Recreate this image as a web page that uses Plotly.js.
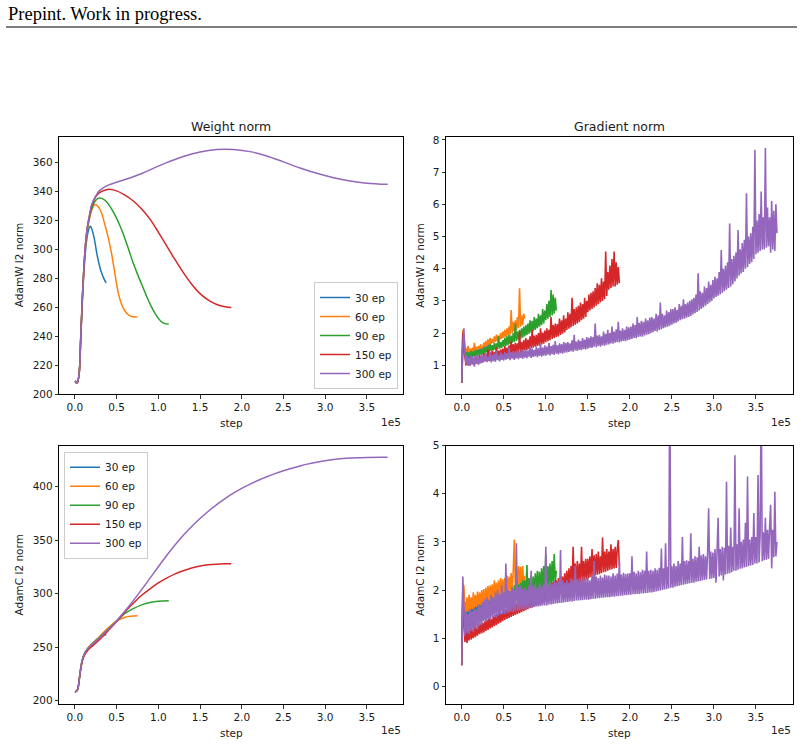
<!DOCTYPE html>
<html>
<head>
<meta charset="utf-8">
<script src="https://cdn.plot.ly/plotly-3.0.1.min.js"></script>
<style>
html, body { margin: 0; padding: 0; background: #fff; }
#chart { width: 804px; height: 745px; }
</style>
</head>
<body>
<div id="chart"></div>
<script>
// ---- runs ----
const runLabels = ['30 ep', '60 ep', '90 ep', '150 ep', '300 ep'];

// ---- axis ticks ----
const stepTickVals = [0, 50000, 100000, 150000, 200000, 250000, 300000, 350000];
const stepTickText = ['0.0', '0.5', '1.0', '1.5', '2.0', '2.5', '3.0', '3.5'];
const adamwWeightTicks = [200, 220, 240, 260, 280, 300, 320, 340, 360];
const adamwGradTicks = [1, 2, 3, 4, 5, 6, 7, 8];
const adamcWeightTicks = [200, 250, 300, 350, 400];
const adamcGradTicks = [0, 1, 2, 3, 4, 5];

// ---- AdamW weight norm ----
const aw30Steps = [0,1000,2000,3000,5000,7000,9000,11000,13000,15000,17000,18500,20000,23000,27000,31000,35000,37500];
const aw30 = [209,208.6,207.8,208.2,214,238,265,286,301,310,315,316,314.5,308,295,285.5,279.5,277];
const aw60Steps = [0,1000,2000,3000,5000,7000,9000,11000,13000,15000,17000,20000,24000,28000,32000,36000,40000,44000,48000,52000,56000,60000,65000,70000,75000];
const aw60 = [209,208.6,207.8,208.2,214,239,267,289,304,314,320,327,331,329.5,325,317,308,297,283,270,262,257.5,254.5,253.6,253.4];
const aw90Steps = [0,1000,2000,3000,5000,7000,9000,11000,13000,15000,17000,20000,25000,29000,35000,40000,45000,50000,55000,60000,65000,70000,75000,80000,85000,90000,95000,100000,105000,112500];
const aw90 = [209,208.6,207.8,208.2,214,240,268,290,305,315,321,328,334,335.5,334.5,331.5,327,321.5,315,307.5,299,290.5,283,276,269,262.5,257,252.5,249.5,248.3];
const aw150Steps = [0,1000,2000,3000,5000,7000,9000,11000,13000,15000,17000,20000,25000,30000,39000,50000,60000,70000,80000,90000,100000,110000,120000,130000,140000,150000,160000,170000,180000,187500];
const aw150 = [209,208.6,207.8,208.2,214,240,268,290,306,316,322,330,336.5,339.5,341.5,340.5,337.5,333.5,328,321,312,302.5,293,284,276,269.5,265,262,260.5,260];
const aw300Steps = [0,1000,2000,3000,5000,7000,9000,11000,13000,15000,17000,20000,25000,30000,40000,50000,60000,70000,80000,90000,100000,110000,120000,130000,140000,150000,160000,170000,180000,190000,210000,230000,250000,270000,290000,310000,330000,350000,375000];
const aw300 = [209,208.6,207.8,208.2,214,240,268,290,306,316,322.5,331,337,341,344.5,346.5,348.3,350.2,352.5,355,357.6,360,362.2,364.2,365.9,367.3,368.4,369.1,369.3,369.1,367.6,364.6,360.5,356.3,352.6,349.6,347.3,345.8,345];

// ---- AdamC weight norm ----
const ac30Steps = [0,1000,3000,4000,6000,8000,10000,13000,16000,20000,25000,30000,34000,37500];
const ac30 = [208.4,208.5,210,213,225,235,241,246,249.5,253,256.5,259.5,261,261.6];
const ac60Steps = [0,1000,3000,4000,6000,8000,10000,13000,16000,20000,30000,40000,50000,55000,60000,65000,70000,75000];
const ac60 = [208.4,208.5,210,213,225,235,241,246,249.5,252.5,260.5,268,274.5,276.5,278,278.8,279.2,279.4];
const ac90Steps = [0,1000,3000,4000,6000,8000,10000,13000,16000,20000,30000,40000,50000,55000,60000,70000,80000,90000,100000,112500];
const ac90 = [208.4,208.5,210,213,225,235,241,246,249,252,259.5,267,274.5,278,281.5,286,289.5,291.8,293,293.4];
const ac150Steps = [0,1000,3000,4000,6000,8000,10000,13000,16000,20000,30000,40000,50000,60000,70000,80000,90000,100000,110000,120000,130000,140000,150000,160000,170000,180000,187500];
const ac150 = [208.4,208.5,210,213,224,234,240,244.5,247.5,250.5,257.5,265.5,274,283,291,298.5,304.5,310,314.5,318.5,321.5,324,325.8,327,327.6,327.9,328];
const ac300Steps = [0,1000,3000,4000,6000,8000,10000,13000,16000,20000,30000,40000,50000,60000,70000,80000,90000,100000,110000,120000,130000,140000,150000,160000,170000,180000,190000,200000,210000,220000,230000,240000,250000,260000,270000,280000,290000,300000,310000,325000,350000,375000];
const ac300 = [208.4,208.5,210,213,225,235,241,246,249,252,259,266.5,274.8,283.8,293.5,303.8,314.5,325.2,335.7,345.5,354.5,362.7,370.2,377,383.3,388.9,393.9,398.4,402.4,406,409.3,412.2,414.9,417.3,419.4,421.3,422.9,424.2,425.3,426.5,427.3,427.4];

// ---- gradient norms, logged every gradStep steps ----
const gradStep = 1250;

// AdamW
const gw30 = [0.45,1.6,1.45,1.3,1.15,1.35,1.2,1.4,1.22,1.38,1.25,1.45,1.28,1.5,1.3,1.48,1.32,1.55,1.35,1.52,
  1.38,1.6,1.4,1.58,1.42,1.79,1.45,1.65,1.48,1.62,1.5];
const gw60 = [0.45,2.1,1.9,1.6,1.5,1.42,1.6,1.4,1.52,1.38,1.55,1.42,1.7,1.45,1.58,1.48,1.6,1.5,1.65,1.52,
  1.55,1.7,1.58,1.75,1.6,1.8,1.63,1.85,1.66,1.82,1.7,1.9,1.72,1.95,1.75,1.92,1.78,2.0,1.82,2.05,
  1.85,2.1,1.88,2.15,1.92,2.2,1.95,2.72,2.0,2.35,2.05,2.4,2.1,2.5,2.15,3.39,2.2,2.55,2.25,2.6,
  2.45];
const gw90 = [0.45,1.9,1.6,1.45,1.25,1.42,1.28,1.4,1.26,1.45,1.3,1.43,1.29,1.48,1.32,1.46,1.31,1.5,1.33,1.52,
  1.35,1.55,1.37,1.58,1.4,1.6,1.42,1.65,1.44,1.62,1.46,1.7,1.48,1.68,1.5,1.9,1.52,1.72,1.54,1.78,
  1.58,1.85,1.6,1.9,1.63,1.95,1.66,1.92,1.7,2.0,1.72,2.3,1.76,2.05,1.8,2.1,1.83,2.15,1.86,2.2,
  1.9,2.25,1.94,2.3,1.98,2.4,2.02,2.38,2.06,2.5,2.1,2.45,2.15,2.6,2.2,2.55,2.25,2.75,2.3,2.7,
  2.4,2.9,2.45,3.0,2.5,3.34,2.55,3.2,2.6,3.1,2.7];
const gw150 = [0.45,2.0,1.55,1.3,1.0,1.25,1.02,1.2,0.99,1.28,1.03,1.22,1.01,1.3,1.05,1.24,1.04,1.32,1.07,1.28,
  1.1,1.38,1.12,1.35,1.14,1.5,1.13,1.4,1.16,1.45,1.15,1.42,1.18,1.55,1.2,1.46,1.19,1.5,1.22,1.52,
  1.26,1.6,1.28,1.55,1.3,1.62,1.32,1.75,1.34,1.66,1.36,1.7,1.37,1.68,1.39,2.05,1.4,1.72,1.42,1.78,
  1.46,1.85,1.48,1.8,1.5,1.9,1.53,2.1,1.55,1.92,1.58,1.95,1.6,2.0,1.62,2.15,1.65,2.02,1.67,2.08,
  1.72,2.15,1.75,2.1,1.78,2.5,1.82,2.25,1.85,2.3,1.88,2.28,1.9,2.45,1.94,2.4,1.98,2.55,2.02,2.45,
  2.1,2.65,2.14,2.6,2.18,3.1,2.22,2.75,2.26,2.8,2.3,2.85,2.35,2.95,2.4,2.9,2.45,3.1,2.5,3.0,
  2.65,3.2,2.7,3.25,2.75,3.3,2.8,3.4,2.85,3.55,2.9,3.5,2.95,3.7,3.0,3.6,3.05,4.53,3.15,3.9,
  3.35,4.1,3.4,4.3,3.45,4.53,3.45,4.2,3.5,4.05,3.55];
const gw300 = [0.45,1.6,2.15,1.4,1.05,1.3,0.98,1.22,1.0,1.3,1.04,1.25,0.96,1.28,1.06,1.33,1.02,1.24,1.07,1.35,
  1.08,1.3,1.12,1.38,1.1,1.27,1.15,1.42,1.09,1.32,1.13,1.36,1.11,1.45,1.16,1.3,1.12,1.4,1.17,1.34,
  1.15,1.42,1.18,1.36,1.2,1.55,1.16,1.4,1.21,1.44,1.17,1.38,1.22,1.48,1.19,1.42,1.23,1.5,1.2,1.45,
  1.24,1.5,1.22,1.46,1.27,1.6,1.23,1.52,1.26,1.48,1.28,1.58,1.25,1.53,1.29,1.66,1.27,1.55,1.3,1.62,
  1.3,1.58,1.33,1.7,1.31,1.6,1.35,1.64,1.32,1.75,1.36,1.62,1.34,1.68,1.38,1.66,1.36,1.72,1.39,1.7,
  1.4,1.72,1.42,1.68,1.44,1.78,1.42,1.95,1.46,1.74,1.45,1.8,1.48,1.76,1.47,1.85,1.5,1.8,1.49,1.88,
  1.52,1.85,1.55,1.9,1.54,1.88,1.58,2.3,1.56,1.92,1.6,1.95,1.58,1.9,1.62,2.05,1.61,1.98,1.64,2.1,
  1.65,2.0,1.68,2.2,1.67,2.05,1.7,2.12,1.72,2.35,1.71,2.08,1.74,2.15,1.76,2.1,1.75,2.2,1.78,2.18,
  1.8,2.2,1.82,2.3,1.85,2.25,1.84,2.5,1.88,2.32,1.9,2.38,1.89,2.35,1.93,2.45,1.95,2.4,1.97,2.48,
  2.0,2.5,2.03,2.45,2.07,2.6,2.05,2.55,2.1,2.95,2.12,2.6,2.15,2.55,2.18,2.7,2.2,2.65,2.23,2.75,
  2.26,2.75,2.3,2.8,2.32,2.72,2.36,2.9,2.4,2.85,2.43,3.05,2.45,2.9,2.48,2.95,2.5,3.0,2.53,3.05,
  2.58,3.1,2.62,3.2,2.66,3.86,2.7,3.3,2.75,3.25,2.8,3.45,2.85,3.4,2.9,3.6,2.95,3.5,3.0,3.65,
  3.08,3.75,3.12,3.7,3.16,3.9,3.2,4.58,3.25,4.0,3.3,4.1,3.35,4.2,3.4,5.4,3.45,4.3,3.52,4.4,
  3.6,4.5,3.7,5.2,3.78,4.6,3.85,4.8,3.9,4.9,4.0,6.34,4.05,5.0,4.15,5.1,4.2,5.3,4.3,7.69,
  4.45,5.5,4.5,5.7,4.55,6.4,4.6,5.6,4.6,7.75,4.65,5.9,4.7,5.6,4.5,6.1,4.6,5.8,4.55,6.0,
  5.1];

// AdamC
const gc30 = [0.45,2.0,1.5,1.75,1.4,1.7,1.45,1.72,1.48,1.75,1.5,1.78,1.52,1.8,1.55,1.82,1.56,1.85,1.58,1.86,
  1.6,1.88,1.62,1.9,1.64,1.92,1.65,1.9,1.67,1.95,1.7];
const gc60 = [0.45,1.5,2.1,1.6,1.5,1.85,1.55,1.9,1.58,1.85,1.6,1.95,1.62,1.9,1.65,1.97,1.66,1.95,1.68,2.0,
  1.7,2.02,1.72,2.05,1.75,2.08,1.76,2.1,1.78,2.12,1.8,2.2,1.82,2.15,1.85,2.2,1.86,2.25,1.88,2.22,
  1.9,2.25,1.92,2.3,1.95,2.28,1.97,2.35,2.0,2.4,3.05,2.02,2.45,2.05,2.5,2.06,2.48,2.08,2.5,2.1,
  2.3];
const gc90 = [0.45,1.8,1.3,1.15,1.55,1.2,1.5,1.18,1.55,1.25,1.52,1.28,1.58,1.3,1.6,1.32,1.62,1.35,1.65,1.36,
  1.68,1.38,1.7,1.4,1.75,1.42,1.72,1.45,1.78,1.47,1.8,1.5,1.85,1.52,1.82,1.55,1.9,1.57,1.88,1.6,
  1.92,1.62,1.95,1.65,2.0,1.67,1.98,1.7,2.05,1.72,2.1,1.74,2.08,1.76,2.12,1.78,2.15,1.8,2.2,1.82,
  2.2,1.84,2.52,1.86,2.25,1.88,2.3,1.9,2.28,1.92,2.35,1.94,2.4,1.96,2.38,1.98,2.45,2.0,2.5,2.02,
  2.75,2.05,2.5,2.08,2.55,2.1,2.6,2.12,2.75,2.15,2.4];
const gc150 = [0.43,2.0,1.4,0.92,1.2,0.9,1.15,0.95,1.22,0.97,1.18,1.0,1.25,1.02,1.22,1.05,1.28,1.08,1.3,1.1,
  1.32,1.12,1.35,1.15,1.38,1.17,1.42,1.2,1.4,1.22,1.45,1.25,1.48,1.27,1.5,1.3,1.55,1.32,1.52,1.35,
  1.58,1.38,1.6,1.4,1.62,1.42,1.65,1.44,1.68,1.46,1.7,1.48,1.72,1.5,1.75,1.52,1.74,1.54,1.78,1.56,
  1.8,1.58,1.82,1.6,1.85,1.62,1.88,1.63,1.9,1.65,1.92,1.67,1.95,1.69,1.97,1.7,2.0,1.72,2.02,1.74,
  2.05,1.76,2.08,1.78,2.1,1.8,2.15,1.82,2.18,1.85,2.2,1.87,2.25,1.9,2.3,1.92,2.28,1.95,2.35,1.97,
  2.4,2.0,2.45,2.02,2.5,2.05,2.9,2.08,2.55,2.1,2.6,2.12,2.55,2.15,2.9,2.18,2.6,2.2,2.65,2.22,
  2.65,2.25,2.7,2.27,2.85,2.28,2.72,2.3,2.75,2.32,2.8,2.33,2.7,2.35,3.09,2.37,2.8,2.38,2.85,2.4,
  2.8,2.42,2.95,2.43,2.85,2.45,2.9,2.46,2.85,3.04,2.5];
const gc300 = [0.45,2.28,1.6,1.05,1.55,1.1,1.5,1.08,1.6,1.15,1.55,1.12,1.62,1.2,1.58,1.18,1.7,1.25,1.65,1.28,
  1.75,1.35,1.8,1.33,1.85,1.38,1.78,1.4,1.9,1.42,1.85,1.45,1.95,1.43,2.0,1.47,1.92,1.48,2.1,1.5,
  1.95,1.5,2.55,1.52,2.0,1.53,1.98,1.55,2.05,1.54,2.0,1.56,2.97,1.57,2.05,1.58,2.1,1.59,2.02,1.6,
  2.05,1.6,2.0,1.62,2.1,1.63,2.4,1.64,2.08,1.65,2.12,1.66,2.05,1.66,2.15,1.67,2.1,1.68,2.12,1.68,
  2.9,1.68,2.1,1.7,2.15,1.7,2.12,1.71,2.2,1.72,2.15,1.72,2.18,1.73,2.83,1.73,2.2,1.74,2.15,1.75,
  2.2,1.75,2.15,1.76,2.25,1.76,2.2,1.77,2.5,1.78,2.22,1.78,2.25,1.79,2.2,1.79,2.28,1.8,2.24,1.8,
  2.25,1.8,2.2,1.81,2.3,1.82,2.6,1.82,2.28,1.83,2.25,1.83,2.3,1.84,2.26,1.84,2.32,1.85,2.3,1.85,
  2.3,1.85,2.28,1.86,2.35,1.86,2.3,1.87,2.34,1.87,2.6,1.88,2.32,1.88,2.36,1.89,2.33,1.89,2.35,1.9,
  2.35,1.9,2.7,1.91,2.38,1.91,2.35,1.92,2.4,1.92,2.37,1.93,2.42,1.93,2.4,1.94,2.8,1.94,2.4,1.95,
  2.42,1.95,2.4,1.96,2.45,1.97,2.42,1.98,2.46,1.99,2.86,2.0,2.45,2.01,2.97,2.02,2.48,2.03,6.5,2.05,
  2.5,2.05,2.55,2.07,2.5,2.08,2.6,2.09,2.55,2.1,3.1,2.11,2.6,2.12,2.62,2.13,2.6,2.14,3.18,2.15,
  2.65,2.15,2.7,2.17,2.68,2.18,2.9,2.19,2.72,2.2,2.75,2.21,2.7,2.22,2.78,3.7,2.23,2.8,2.24,2.78,
  2.25,2.85,2.15,2.8,3.5,2.28,2.85,2.3,2.9,2.2,2.88,2.32,4.25,2.34,2.92,2.35,3.3,2.37,2.9,2.4,
  4.8,2.4,2.95,2.42,3.7,2.44,3.0,2.45,3.05,2.47,3.4,2.48,4.36,2.5,3.05,2.51,3.1,2.52,3.6,2.55,
  3.1,2.55,4.39,2.57,3.15,6.2,2.6,3.2,2.62,3.5,2.63,3.25,2.65,3.3,3.77,2.45,3.25,2.68,4.04,2.7,
  3.0];

// ---- styling ----
const runColors = ['#1f77b4', '#ff7f0e', '#2ca02c', '#d62728', '#9467bd'];
const W = 804, H = 745;
const px = x => x / W;
const py = y => 1 - y / H;
const FONT = 'DejaVu Sans, Liberation Sans, sans-serif';
const textColor = '#1a1a1a';

const gradX = vals => vals.map((_, i) => i * gradStep);

const weightAdamW = [[aw30Steps, aw30], [aw60Steps, aw60], [aw90Steps, aw90], [aw150Steps, aw150], [aw300Steps, aw300]];
const weightAdamC = [[ac30Steps, ac30], [ac60Steps, ac60], [ac90Steps, ac90], [ac150Steps, ac150], [ac300Steps, ac300]];
const gradAdamW = [gw30, gw60, gw90, gw150, gw300];
const gradAdamC = [gc30, gc60, gc90, gc150, gc300];

const weightLine = k => ({ color: runColors[k], width: 1.5, shape: 'spline', smoothing: 1 });
const gradLine = k => ({ color: runColors[k], width: 1.6, simplify: false });

const traces = [];
weightAdamW.forEach(([xs, ys], k) => traces.push({
  x: xs, y: ys, xaxis: 'x', yaxis: 'y', type: 'scatter', mode: 'lines',
  name: runLabels[k], legend: 'legend', showlegend: true, line: weightLine(k)
}));
gradAdamW.forEach((ys, k) => traces.push({
  x: gradX(ys), y: ys, xaxis: 'x2', yaxis: 'y2', type: 'scatter', mode: 'lines',
  name: runLabels[k], showlegend: false, line: gradLine(k)
}));
weightAdamC.forEach(([xs, ys], k) => traces.push({
  x: xs, y: ys, xaxis: 'x3', yaxis: 'y3', type: 'scatter', mode: 'lines',
  name: runLabels[k], legend: 'legend2', showlegend: true, line: weightLine(k)
}));
gradAdamC.forEach((ys, k) => traces.push({
  x: gradX(ys), y: ys, xaxis: 'x4', yaxis: 'y4', type: 'scatter', mode: 'lines',
  name: runLabels[k], showlegend: false, line: gradLine(k)
}));

// panel frames in pixels: [left, right, top, bottom]
const panels = {
  tl: [59.3, 403.3, 137, 394.3],
  tr: [446, 792.7, 137, 394.3],
  bl: [59.3, 403.3, 445.7, 704],
  br: [446, 792.7, 445.7, 704]
};

function xAxis(p, anchor) {
  return {
    domain: [px(p[0]), px(p[1])], anchor: anchor,
    range: [-18750, 393750], tickvals: stepTickVals, ticktext: stepTickText,
    showline: true, mirror: true, linecolor: '#000', linewidth: 1,
    ticks: 'outside', ticklen: 3.5, tickwidth: 0.8, tickcolor: '#000',
    showgrid: false, zeroline: false,
    tickfont: { family: FONT, size: 10.5, color: textColor }
  };
}
function yAxis(p, anchor, range, ticks) {
  return {
    domain: [py(p[3]), py(p[2])], anchor: anchor,
    range: range, tickvals: ticks,
    showline: true, mirror: true, linecolor: '#000', linewidth: 1,
    ticks: 'outside', ticklen: 3.5, tickwidth: 0.8, tickcolor: '#000',
    showgrid: false, zeroline: false,
    tickfont: { family: FONT, size: 10.5, color: textColor }
  };
}

function label(text, x, y, opts) {
  return Object.assign({
    text: text, xref: 'paper', yref: 'paper', x: px(x), y: py(y),
    xanchor: 'center', yanchor: 'middle', showarrow: false,
    font: { family: FONT, size: 10.5, color: textColor }
  }, opts || {});
}

const annotations = [
  label('Prepint. Work in progress.', 6, 14, { xanchor: 'left', font: { family: 'Liberation Serif, Times New Roman, serif', size: 18.5, color: '#000' } }),
  label('Weight norm', 231.3, 126.5, { font: { family: FONT, size: 12.5, color: textColor } }),
  label('Gradient norm', 619.3, 126.5, { font: { family: FONT, size: 12.5, color: textColor } }),
  label('AdamW l2 norm', 18.5, 265.7, { textangle: -90 }),
  label('AdamW l2 norm', 420, 265.7, { textangle: -90 }),
  label('AdamC l2 norm', 18.5, 575, { textangle: -90 }),
  label('AdamC l2 norm', 420, 575, { textangle: -90 }),
  label('step', 231.3, 423.3),
  label('step', 619.3, 423.3),
  label('step', 231.3, 732.7),
  label('step', 619.3, 732.7),
  label('1e5', 403.3, 422.3, { xanchor: 'right' }),
  label('1e5', 792.7, 422.3, { xanchor: 'right' }),
  label('1e5', 403.3, 730, { xanchor: 'right' }),
  label('1e5', 792.7, 730, { xanchor: 'right' })
];

const legendStyle = {
  bgcolor: 'rgba(255,255,255,0.8)', bordercolor: '#cccccc', borderwidth: 1,
  font: { family: FONT, size: 10.5, color: textColor },
  itemwidth: 30, tracegroupgap: 0
};

const layout = {
  width: W, height: H,
  margin: { l: 0, r: 0, t: 0, b: 0 },
  paper_bgcolor: '#fff', plot_bgcolor: '#fff',
  showlegend: true,
  xaxis: xAxis(panels.tl, 'y'),
  yaxis: yAxis(panels.tl, 'x', [200, 377.7], adamwWeightTicks),
  xaxis2: xAxis(panels.tr, 'y2'),
  yaxis2: yAxis(panels.tr, 'x2', [0.1, 8.09], adamwGradTicks),
  xaxis3: xAxis(panels.bl, 'y3'),
  yaxis3: yAxis(panels.bl, 'x3', [196.9, 438.3], adamcWeightTicks),
  xaxis4: xAxis(panels.br, 'y4'),
  yaxis4: yAxis(panels.br, 'x4', [-0.37, 5.0], adamcGradTicks),
  legend: Object.assign({ x: px(398), y: py(389), xanchor: 'right', yanchor: 'bottom' }, legendStyle),
  legend2: Object.assign({ x: px(64), y: py(451.7), xanchor: 'left', yanchor: 'top' }, legendStyle),
  annotations: annotations,
  shapes: [{
    type: 'line', xref: 'paper', yref: 'paper',
    x0: px(6), x1: px(797), y0: py(27), y1: py(27),
    line: { color: '#000', width: 1.2 }
  }]
};

Plotly.newPlot('chart', traces, layout, { displayModeBar: false, staticPlot: true });
</script>
</body>
</html>
